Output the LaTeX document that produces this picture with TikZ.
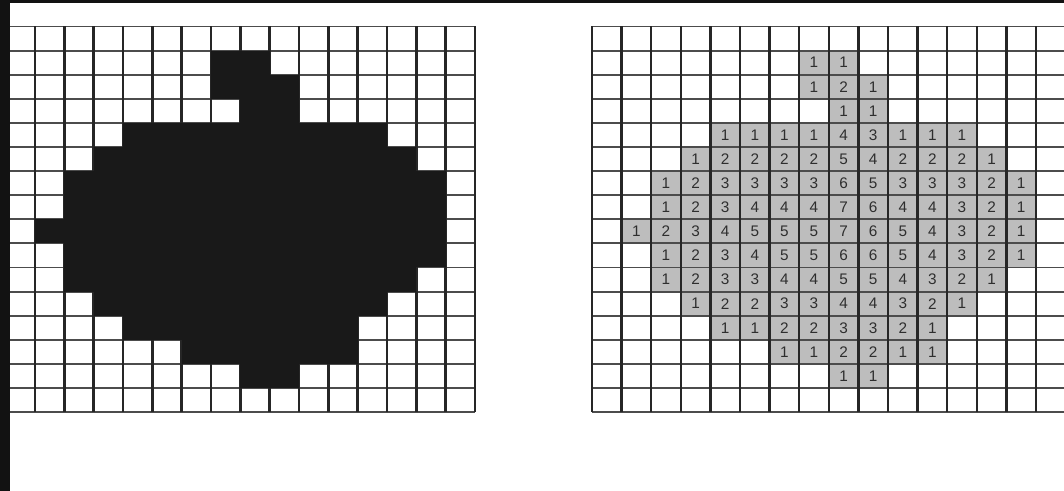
\documentclass[tikz,border=0pt]{standalone}
\usepackage{fontspec}
\setsansfont{Liberation Sans}
\usepackage{tikz}
\tikzset
{
  blackcell/.style={fill=black!90},
  shadecell/.style={fill=black!26},
  vline/.style={draw=black!85,line width=1.8pt},
  hline/.style={draw=black!70,line width=1.4pt},
  distnum/.style={text=black!82,font=\sffamily\fontsize{11.5}{13}\selectfont,inner sep=0pt}
}

\begin{document}
\begin{tikzpicture}[x=0.75pt,y=-0.75pt]

    % Fix the page size
    \useasboundingbox (0,0) rectangle (1064,491);

    % Define the cell sizes and the grid origins
    \pgfmathsetmacro{\lw}{29.33}
    \pgfmathsetmacro{\rw}{29.6}
    \pgfmathsetmacro{\ch}{24.1}
    \pgfmathsetmacro{\lx}{5.7}
    \pgfmathsetmacro{\rx}{592}
    \pgfmathsetmacro{\gtop}{26.5}
    \pgfmathsetmacro{\gbot}{\gtop+16*\ch}

    % Draw the lines of the left grid (the black cells go over them)
    \foreach \k in {0,...,16}
      \draw[hline] (10,{\gtop+\k*\ch}) -- ({\lx+16*\lw},{\gtop+\k*\ch});
    \foreach \k in {1,...,16}
      \draw[vline] ({\lx+\k*\lw},\gtop) -- ({\lx+\k*\lw},\gbot);

    % Fill the cells: black on the left, grey with its distance on the right
    \foreach \row [count=\r from 0] in {%
        {0,0,0,0,0,0,0,0,0,0,0,0,0,0,0,0},%
        {0,0,0,0,0,0,0,1,1,0,0,0,0,0,0,0},%
        {0,0,0,0,0,0,0,1,2,1,0,0,0,0,0,0},%
        {0,0,0,0,0,0,0,0,1,1,0,0,0,0,0,0},%
        {0,0,0,0,1,1,1,1,4,3,1,1,1,0,0,0},%
        {0,0,0,1,2,2,2,2,5,4,2,2,2,1,0,0},%
        {0,0,1,2,3,3,3,3,6,5,3,3,3,2,1,0},%
        {0,0,1,2,3,4,4,4,7,6,4,4,3,2,1,0},%
        {0,1,2,3,4,5,5,5,7,6,5,4,3,2,1,0},%
        {0,0,1,2,3,4,5,5,6,6,5,4,3,2,1,0},%
        {0,0,1,2,3,3,4,4,5,5,4,3,2,1,0,0},%
        {0,0,0,1,2,2,3,3,4,4,3,2,1,0,0,0},%
        {0,0,0,0,1,1,2,2,3,3,2,1,0,0,0,0},%
        {0,0,0,0,0,0,1,1,2,2,1,1,0,0,0,0},%
        {0,0,0,0,0,0,0,0,1,1,0,0,0,0,0,0},%
        {0,0,0,0,0,0,0,0,0,0,0,0,0,0,0,0}%
    }{
      \foreach \v [count=\c from 0] in \row {
        \ifnum\v>0
          \fill[blackcell] ({\lx+\c*\lw},{\gtop+\r*\ch}) rectangle ++(\lw,\ch);
          \fill[shadecell] ({\rx+\c*\rw},{\gtop+\r*\ch}) rectangle ++(\rw,\ch);
          \node[distnum] (d-\r-\c) at ({\rx+(\c+0.5)*\rw},{\gtop+(\r+0.5)*\ch}) {\v};
        \fi
      }
    }

    % Draw the lines of the right grid
    \foreach \k in {0,...,16}
      \draw[hline] (\rx,{\gtop+\k*\ch}) -- (1064,{\gtop+\k*\ch});
    \foreach \k in {0,...,15}
      \draw[vline] ({\rx+\k*\rw},\gtop) -- ({\rx+\k*\rw},\gbot);

    % Draw the dark frame at the left and top edge
    \fill[black!93] (0,0) rectangle (10,491);
    \fill[black!93] (0,0) rectangle (1064,3);

\end{tikzpicture}
\end{document}
